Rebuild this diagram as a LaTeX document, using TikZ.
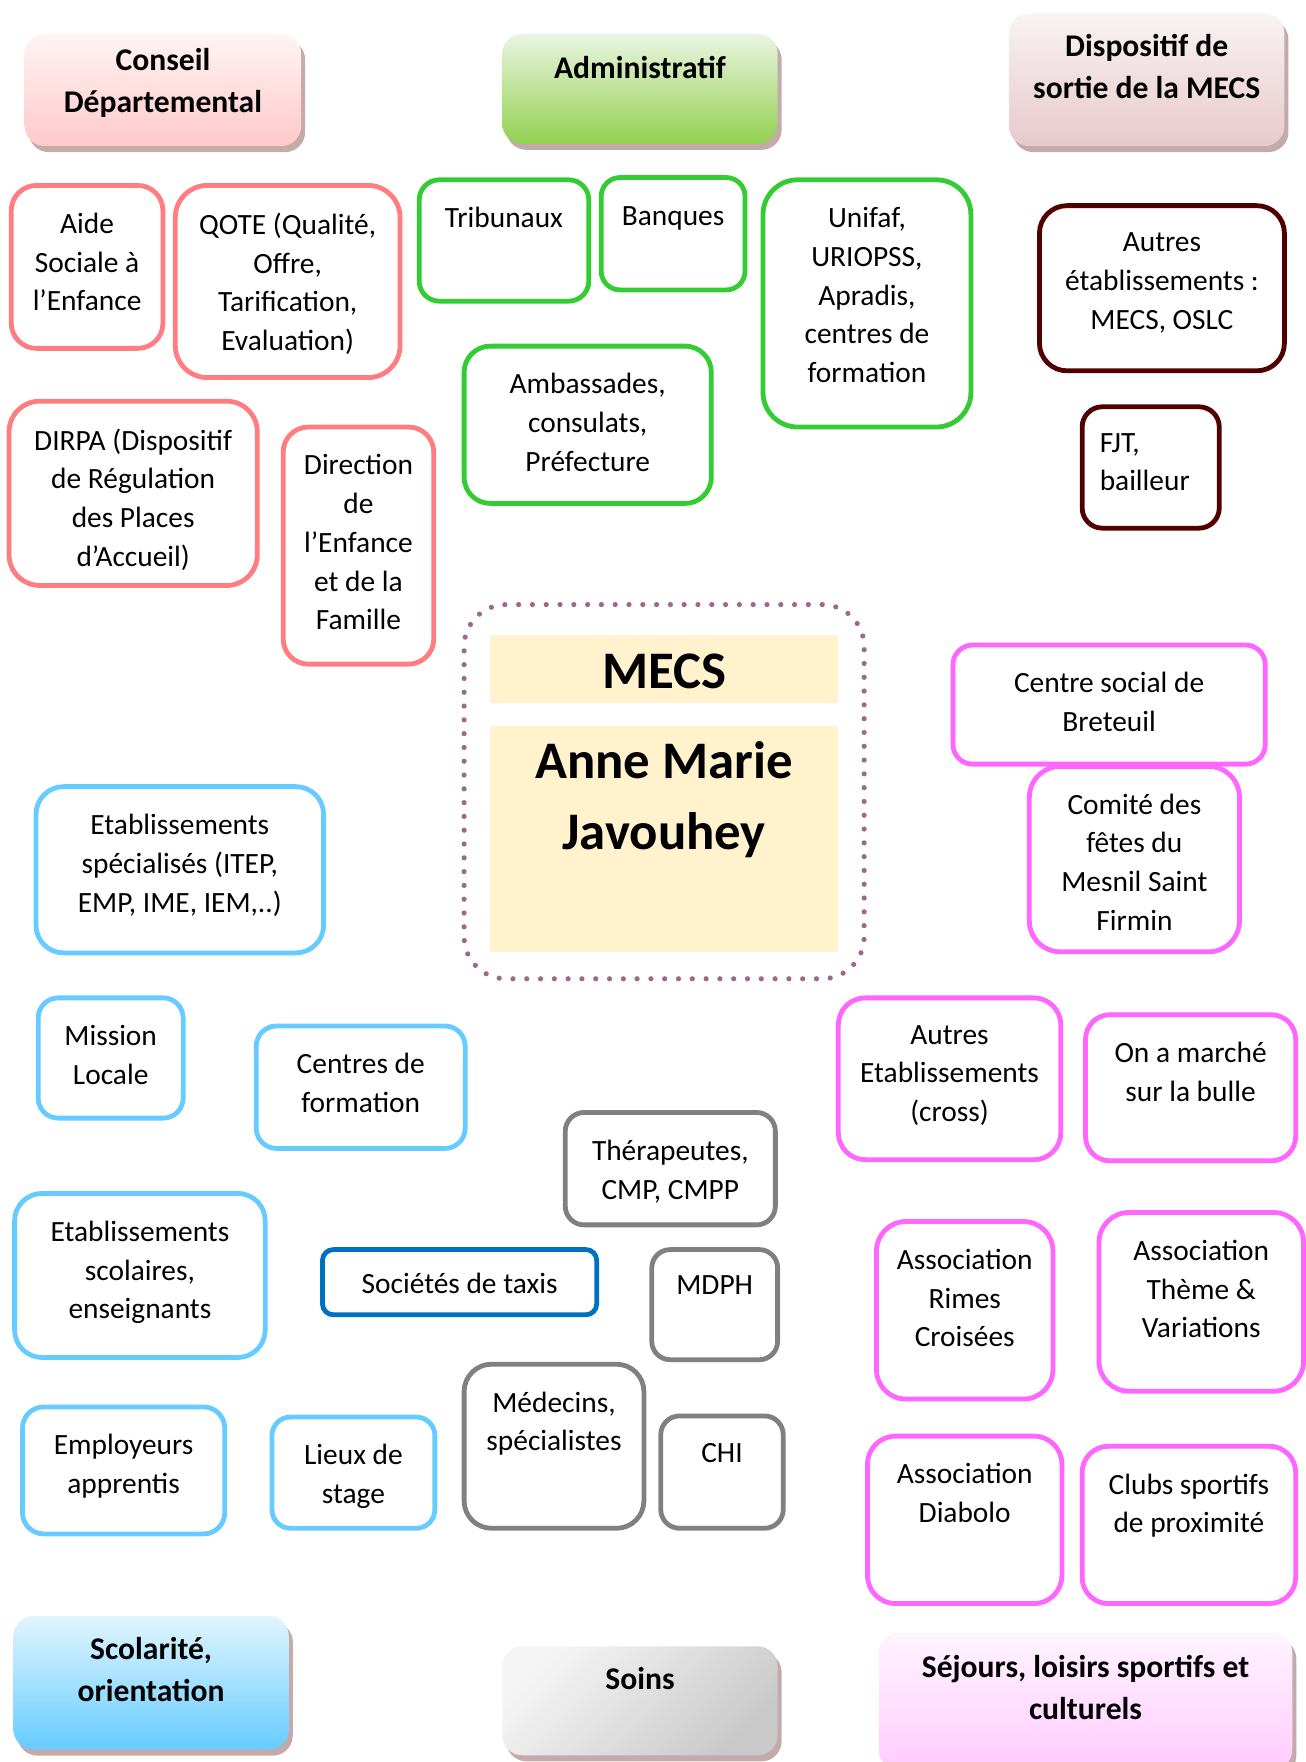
\documentclass[tikz,border=0pt]{standalone}
\usepackage{fontspec}
\setmainfont{Carlito}
\usetikzlibrary{positioning, fit, shadows}

\definecolor{redline}{HTML}{FF7C80}
\definecolor{greenline}{HTML}{33CC33}
\definecolor{darkline}{HTML}{500000}
\definecolor{blueline}{HTML}{66CCFF}
\definecolor{taxiline}{HTML}{0070C0}
\definecolor{greyline}{HTML}{808080}
\definecolor{pinkline}{HTML}{FF66FF}
\definecolor{mecsdot}{RGB}{158,104,138}
\definecolor{mecsfill}{HTML}{FFF2CC}
\definecolor{headshadow}{RGB}{196,170,170}
\definecolor{cdtop}{HTML}{FFF4F4}
\definecolor{cdbot}{HTML}{FFC9C9}
\definecolor{admtop}{HTML}{EAF5E2}
\definecolor{admbot}{HTML}{92D050}
\definecolor{dsptop}{HTML}{F9F3F3}
\definecolor{dspbot}{HTML}{E8C9CB}
\definecolor{scotop}{HTML}{E1F5FF}
\definecolor{scobot}{HTML}{66CCFF}
\definecolor{soitop}{HTML}{F5F5F5}
\definecolor{soibot}{HTML}{C9C9C9}
\definecolor{sejtop}{HTML}{FFF4FF}
\definecolor{sejbot}{HTML}{FFCBFF}

\newcommand{\bodyfont}{\fontsize{14.7}{19.4}\selectfont}
\newcommand{\headfont}{\fontsize{15.8}{21}\selectfont\bfseries}
\newcommand{\mecsfont}{\fontsize{26.4}{35.4}\selectfont\bfseries}

\begin{document}
\begin{tikzpicture}
    [
        x=0.562pt, y=-0.562pt, node distance=14.7pt,
        box/.style={rectangle, draw, line width=2.4pt, fill=white, inner sep=0pt},
        red_box/.style={box, draw=redline},
        green_box/.style={box, draw=greenline},
        dark_box/.style={box, draw=darkline},
        blue_box/.style={box, draw=blueline},
        taxi_box/.style={box, draw=taxiline},
        grey_box/.style={box, draw=greyline},
        pink_box/.style={box, draw=pinkline},
        head/.style={rectangle, inner sep=0pt, rounded corners=10pt,
            drop shadow={shadow xshift=2pt, shadow yshift=-3pt, fill=headshadow, opacity=1}},
        mecs_ring/.style={rectangle, inner sep=0pt, draw=mecsdot, line width=2.6pt,
            dash pattern=on 0pt off 6.9pt, line cap=round, rounded corners=21pt},
        mecs_fill/.style={rectangle, inner sep=0pt, fill=mecsfill},
        txt/.style={align=center, inner sep=0pt, font=\bodyfont, execute at begin node=\strut},
        head_txt/.style={txt, font=\headfont},
    ]
        \useasboundingbox (0,0) rectangle (1162,1568);

        % headers
        \node[head, top color=cdtop, bottom color=cdbot, fit={(22,30) (268,130)}] (cd) {};
        \node[head_txt, below=7.5pt of cd.north] (cdT) {Conseil\\Départemental};
        \node[head, top color=admtop, bottom color=admbot, fit={(447,30) (692,128)}] (adm) {};
        \node[head_txt, below=7.8pt of adm.north] (admT) {Administratif};
        \node[head, top color=dsptop, bottom color=dspbot, fit={(898,12) (1143,130)}] (dsp) {};
        \node[head_txt, below=10.3pt of dsp.north] (dspT) {Dispositif de\\sortie de la MECS};
        \node[head, top color=scotop, bottom color=scobot, fit={(12,1438) (257,1557)}] (sco) {};
        \node[head_txt, below=10.9pt of sco.north] (scoT) {Scolarité,\\orientation};
        \node[head, top color=soitop, bottom color=soibot, shading angle=45, fit={(447,1465) (692,1562)}] (soi) {};
        \node[head_txt, below=6.9pt of soi.north] (soiT) {Soins};
        \node[head, top color=sejtop, bottom color=sejbot, fit={(782,1453) (1150,1575)}] (sej) {};
        \node[head_txt, below=11.4pt of sej.north] (sejT) {Séjours, loisirs sportifs et\\culturels};

        % Conseil Departemental
        \node[red_box, rounded corners=12.6pt, fit={(10,165) (145,310)}] (ase) {};
        \node[txt, below=of ase.north] (aseT) {Aide\\Sociale à\\l’Enfance};
        \node[red_box, rounded corners=16pt, fit={(156,165) (356,336)}] (qote) {};
        \node[txt, below=of qote.north] (qoteT) {QOTE (Qualité,\\Offre,\\Tarification,\\Evaluation)};
        \node[red_box, rounded corners=15.4pt, fit={(8,357) (229,521)}] (dirpa) {};
        \node[txt, below=of dirpa.north] (dirpaT) {DIRPA (Dispositif\\de Régulation\\des Places\\d’Accueil)};
        \node[red_box, rounded corners=12.6pt, fit={(252,380) (386,591)}] (def) {};
        \node[txt, below=of def.north] (defT) {Direction\\de\\l’Enfance\\et de la\\Famille};

        % Administratif
        \node[green_box, rounded corners=10.1pt, fit={(373,160) (524,268)}] (trib) {};
        \node[txt, below=11.2pt of trib.north] (tribT) {Tribunaux};
        \node[green_box, rounded corners=9.4pt, fit={(535,158) (663,258)}] (banq) {};
        \node[txt, below=11.2pt of banq.north] (banqT) {Banques};
        \node[green_box, rounded corners=17.3pt, fit={(679,160) (864,380)}] (unifaf) {};
        \node[txt, below=of unifaf.north] (unifafT) {Unifaf,\\URIOPSS,\\Apradis,\\centres de\\formation};
        \node[green_box, rounded corners=13.1pt, fit={(413,308) (633,448)}] (amb) {};
        \node[txt, below=of amb.north] (ambT) {Ambassades,\\consulats,\\Préfecture};

        % sortie
        \node[dark_box, rounded corners=13.8pt, fit={(925,183) (1143,330)}] (autres) {};
        \node[txt, below=of autres.north] (autresT) {Autres\\établissements :\\MECS, OSLC};
        \node[dark_box, rounded corners=10.1pt, fit={(963,362) (1085,470)}] (fjt) {};
        \node[txt, align=left, below right=14.2pt and 9.8pt of fjt.north west] (fjtT) {FJT,\\bailleur};

        % MECS
        \node[mecs_ring, fit={(413,538) (769,871)}] (ring) {};
        \node[mecs_fill, fit={(436,565) (746,626)}] (mecs) {};
        \node[txt, font=\mecsfont, below=2pt of mecs.north] (mecsT) {MECS};
        \node[mecs_fill, fit={(436,646) (746,847)}] (amj) {};
        \node[txt, font=\mecsfont, below=7.7pt of amj.north] (amjT) {Anne Marie\\Javouhey};

        % Scolarite, orientation
        \node[blue_box, rounded corners=13.9pt, fit={(32,700) (288,848)}] (etspe) {};
        \node[txt, below=of etspe.north] (etspeT) {Etablissements\\spécialisés (ITEP,\\EMP, IME, IEM,..)};
        \node[blue_box, rounded corners=10pt, fit={(34,888) (163,995)}] (mission) {};
        \node[txt, below=of mission.north] (missionT) {Mission\\Locale};
        \node[blue_box, rounded corners=10.2pt, fit={(228,913) (414,1022)}] (cform) {};
        \node[txt, below=of cform.north] (cformT) {Centres de\\formation};
        \node[blue_box, rounded corners=13.7pt, fit={(13,1062) (236,1208)}] (etsco) {};
        \node[txt, below=of etsco.north] (etscoT) {Etablissements\\scolaires,\\enseignants};
        \node[blue_box, rounded corners=10.6pt, fit={(20,1252) (200,1365)}] (empl) {};
        \node[txt, below=of empl.north] (emplT) {Employeurs\\apprentis};
        \node[blue_box, rounded corners=9.3pt, fit={(242,1261) (387,1360)}] (stage) {};
        \node[txt, below=of stage.north] (stageT) {Lieux de\\stage};
        \node[taxi_box, rounded corners=5.4pt, fit={(287,1112) (531,1170)}] (taxis) {};
        \node[txt, below=9.5pt of taxis.north] (taxisT) {Sociétés de taxis};

        % Soins
        \node[grey_box, rounded corners=9.4pt, fit={(503,990) (690,1090)}] (ther) {};
        \node[txt, below=of ther.north] (therT) {Thérapeutes,\\CMP, CMPP};
        \node[grey_box, rounded corners=9.2pt, fit={(580,1112) (692,1210)}] (mdph) {};
        \node[txt, below=10pt of mdph.north] (mdphT) {MDPH};
        \node[grey_box, rounded corners=13.7pt, fit={(413,1214) (573,1360)}] (med) {};
        \node[txt, below=of med.north] (medT) {Médecins,\\spécialistes};
        \node[grey_box, rounded corners=9.4pt, fit={(588,1260) (697,1360)}] (chi) {};
        \node[txt, below=10.7pt of chi.north] (chiT) {CHI};

        % Sejours, loisirs
        \node[pink_box, rounded corners=9.9pt, fit={(848,574) (1126,680)}] (bret) {};
        \node[txt, below=of bret.north] (bretT) {Centre social de\\Breteuil};
        \node[pink_box, rounded corners=15.5pt, fit={(916,682) (1103,847)}] (comite) {};
        \node[txt, below=of comite.north] (comiteT) {Comité des\\fêtes du\\Mesnil Saint\\Firmin};
        \node[pink_box, rounded corners=13.5pt, fit={(746,888) (944,1032)}] (cross) {};
        \node[txt, below=of cross.north] (crossT) {Autres\\Etablissements\\(cross)};
        \node[pink_box, rounded corners=12.2pt, fit={(966,903) (1153,1033)}] (bulle) {};
        \node[txt, below=of bulle.north] (bulleT) {On a marché\\sur la bulle};
        \node[pink_box, rounded corners=14.7pt, fit={(780,1087) (937,1245)}] (rimes) {};
        \node[txt, below=of rimes.north] (rimesT) {Association\\Rimes\\Croisées};
        \node[pink_box, rounded corners=14.9pt, fit={(978,1079) (1160,1238)}] (theme) {};
        \node[txt, below=of theme.north] (themeT) {Association\\Thème \&\\Variations};
        \node[pink_box, rounded corners=14pt, fit={(772,1278) (945,1427)}] (diabolo) {};
        \node[txt, below=of diabolo.north] (diaboloT) {Association\\Diabolo};
        \node[pink_box, rounded corners=13.1pt, fit={(963,1287) (1153,1427)}] (clubs) {};
        \node[txt, below=of clubs.north] (clubsT) {Clubs sportifs\\de proximité};
\end{tikzpicture}
\end{document}
